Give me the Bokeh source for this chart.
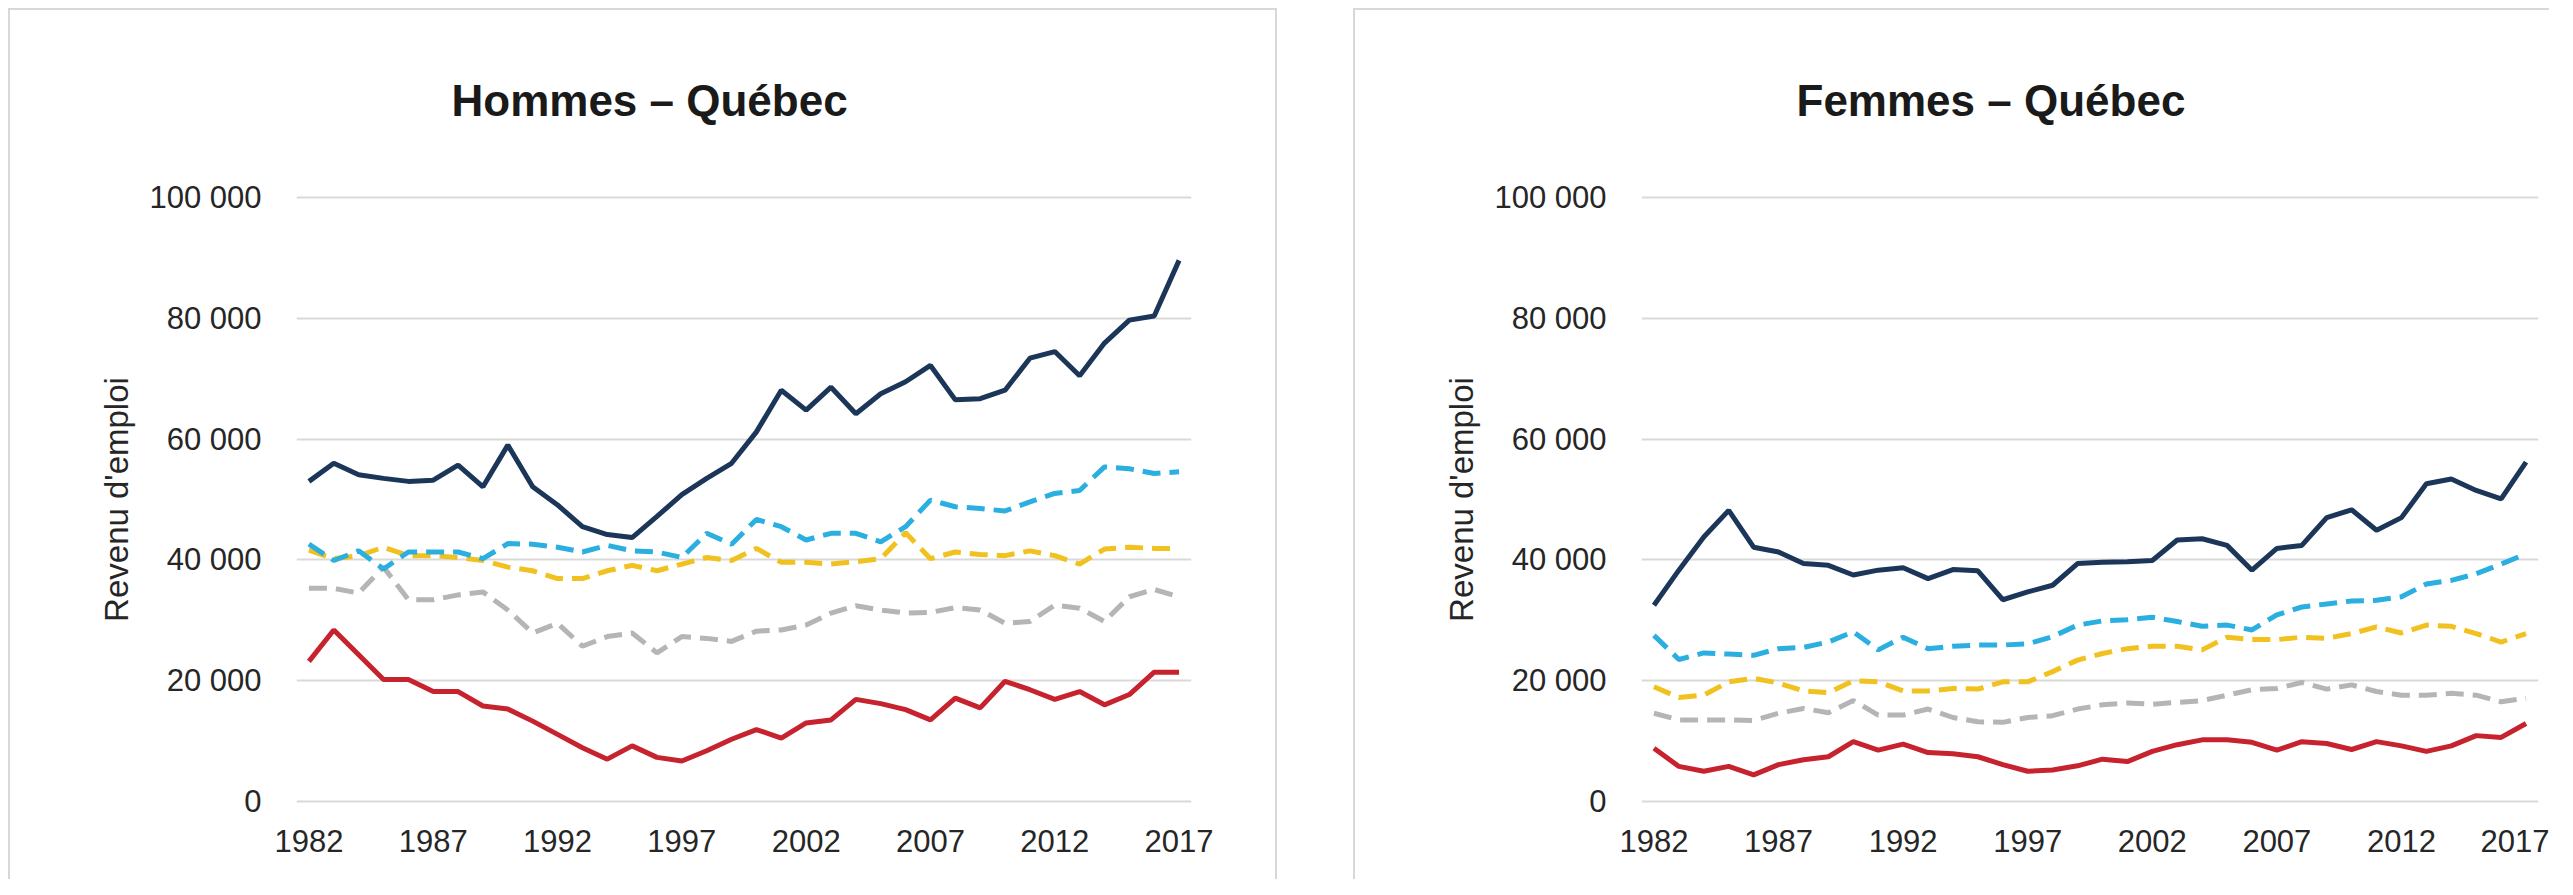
from bokeh.plotting import figure
from bokeh.layouts import row
from bokeh.models import Range1d, FixedTicker
from bokeh.embed import file_html
from bokeh.resources import INLINE

years = list(range(1982, 2018))
x_tick_years = [1982, 1987, 1992, 1997, 2002, 2007, 2012, 2017]
y_ticks = [0, 20000, 40000, 60000, 80000, 100000]
y_tick_labels = ["0", "20 000", "40 000", "60 000", "80 000", "100 000"]
y_axis_title = "Revenu d'emploi"
titles = ["Hommes \u2013 Québec", "Femmes \u2013 Québec"]

hommes_navy = [53000, 56000, 54100, 53500, 53000, 53200, 55700, 52100, 59000, 52100,
               49100, 45500, 44200, 43700, 47200, 50800, 53500, 56000, 61200, 68100,
               64800, 68600, 64200, 67500, 69500, 72200, 66500, 66700, 68100, 73400,
               74500, 70500, 75900, 79700, 80400, 89600]
hommes_cyan = [42600, 39900, 41500, 38500, 41300, 41300, 41300, 40200, 42700, 42600,
               42100, 41300, 42400, 41500, 41300, 40400, 44400, 42600, 46700, 45500,
               43300, 44400, 44400, 43000, 45500, 49900, 48800, 48500, 48100, 49600,
               51000, 51500, 55400, 55100, 54300, 54600]
hommes_yellow = [41600, 40200, 40700, 42100, 40700, 40700, 40400, 39900, 38800, 38200,
                 36900, 36900, 38200, 39100, 38200, 39300, 40400, 39900, 41900, 39600,
                 39600, 39300, 39700, 40200, 44500, 40200, 41300, 40900, 40700, 41500,
                 40700, 39300, 41800, 42100, 41900, 41900]
hommes_grey = [35300, 35300, 34500, 38800, 33400, 33400, 34200, 34700, 31700, 27900,
               29500, 25700, 27300, 27900, 24600, 27300, 27000, 26500, 28200, 28400,
               29200, 31200, 32400, 31700, 31200, 31300, 32100, 31700, 29500, 29800,
               32500, 32000, 29800, 33900, 35100, 33900]
hommes_red = [23200, 28400, 24300, 20200, 20200, 18200, 18200, 15800, 15300, 13300,
              11100, 8900, 7000, 9200, 7300, 6700, 8400, 10300, 11900, 10500,
              13000, 13500, 16900, 16200, 15200, 13500, 17100, 15500, 19900, 18500,
              16900, 18200, 16000, 17700, 21400, 21400]

femmes_navy = [32500, 38300, 43800, 48200, 42100, 41300, 39400, 39100, 37500, 38300,
               38700, 36900, 38400, 38200, 33400, 34700, 35800, 39400, 39600, 39700,
               39900, 43300, 43500, 42400, 38300, 41900, 42400, 47000, 48300, 44900,
               47000, 52600, 53400, 51500, 50100, 56200]
femmes_cyan = [27500, 23500, 24600, 24400, 24200, 25300, 25500, 26400, 28100, 25100,
               27200, 25300, 25700, 25900, 25900, 26100, 27300, 29200, 29900, 30100,
               30500, 29800, 29000, 29200, 28400, 30900, 32200, 32700, 33200, 33300,
               33900, 36000, 36600, 37700, 39300, 41000]
femmes_yellow = [19000, 17200, 17600, 19800, 20400, 19600, 18300, 18000, 20000, 19800,
                 18300, 18300, 18700, 18600, 19800, 19800, 21500, 23400, 24500, 25300,
                 25700, 25700, 25100, 27200, 26800, 26800, 27200, 27000, 27800, 28900,
                 27900, 29200, 29000, 27800, 26400, 27800]
femmes_grey = [14600, 13500, 13500, 13500, 13400, 14600, 15400, 14700, 16700, 14300,
               14300, 15300, 13900, 13200, 13100, 13900, 14200, 15300, 16000, 16300,
               16100, 16400, 16700, 17600, 18500, 18700, 19700, 18600, 19300, 18200,
               17600, 17600, 17900, 17600, 16500, 17100]
femmes_red = [8800, 5800, 5000, 5800, 4400, 6100, 6900, 7400, 9900, 8500,
              9500, 8100, 7900, 7400, 6100, 5000, 5200, 5900, 7000, 6600,
              8300, 9400, 10200, 10200, 9800, 8500, 9900, 9600, 8600, 9900,
              9200, 8300, 9200, 10900, 10600, 12900]

NAVY = "#1b3658"
CYAN = "#2aafe0"
YELLOW = "#f1c11f"
GREY = "#b5b5b5"
RED = "#c7232f"
FONT = "Liberation Sans"
BORDER = "2px solid #d8d8d8"


def make_panel(title, navy, cyan, yellow, grey, red, width, margin, styles, border_right):
    p = figure(width=width, height=871, output_backend="svg", toolbar_location=None,
               x_range=Range1d(1981.5, 2017.5), y_range=Range1d(-1500, 101500),
               min_border_left=286, min_border_right=border_right,
               min_border_top=176, min_border_bottom=71,
               margin=margin, styles=styles)
    p.outline_line_color = None
    p.background_fill_color = "white"
    p.border_fill_color = "white"

    p.title.text = title
    p.title.align = "left"
    p.title.offset = 155
    p.title.standoff = 127
    p.title.text_font = FONT
    p.title.text_font_size = "44px"
    p.title.text_font_style = "bold"
    p.title.text_color = "#1a1a1a"

    p.xgrid.grid_line_color = None
    p.ygrid.grid_line_color = "#d9d9d9"
    p.ygrid.grid_line_width = 2
    p.ygrid.ticker = FixedTicker(ticks=y_ticks)

    p.xaxis.ticker = FixedTicker(ticks=x_tick_years)
    p.yaxis.ticker = FixedTicker(ticks=y_ticks)
    p.yaxis.major_label_overrides = {t: l for t, l in zip(y_ticks, y_tick_labels)}
    for ax in (p.xaxis, p.yaxis):
        ax.axis_line_color = None
        ax.major_tick_line_color = None
        ax.minor_tick_line_color = None
        ax.major_label_text_font = FONT
        ax.major_label_text_font_size = "31px"
        ax.major_label_text_color = "#262626"
    p.xaxis.major_label_standoff = 13
    p.yaxis.major_label_standoff = 29
    p.yaxis.axis_label = y_axis_title
    p.yaxis.axis_label_text_font = FONT
    p.yaxis.axis_label_text_font_size = "33px"
    p.yaxis.axis_label_text_font_style = "normal"
    p.yaxis.axis_label_text_color = "#262626"
    p.yaxis.axis_label_standoff = 11

    p.line(years, red, line_color=RED, line_width=5)
    p.line(years, grey, line_color=GREY, line_width=5, line_dash="18 9")
    p.line(years, yellow, line_color=YELLOW, line_width=5, line_dash="18 9")
    p.line(years, cyan, line_color=CYAN, line_width=5, line_dash="18 9")
    p.line(years, navy, line_color=NAVY, line_width=5)
    return p


p1 = make_panel(titles[0], hommes_navy, hommes_cyan, hommes_yellow, hommes_grey, hommes_red,
                width=1269, margin=(8, 0, 0, 8),
                styles={"border-top": BORDER, "border-left": BORDER, "border-right": BORDER},
                border_right=88)
p2 = make_panel(titles[1], femmes_navy, femmes_cyan, femmes_yellow, femmes_grey, femmes_red,
                width=1196, margin=(8, 0, 0, 76),
                styles={"border-top": BORDER, "border-left": BORDER},
                border_right=13)

layout = row(p1, p2)
open("out.html", "w").write(file_html(layout, INLINE))
